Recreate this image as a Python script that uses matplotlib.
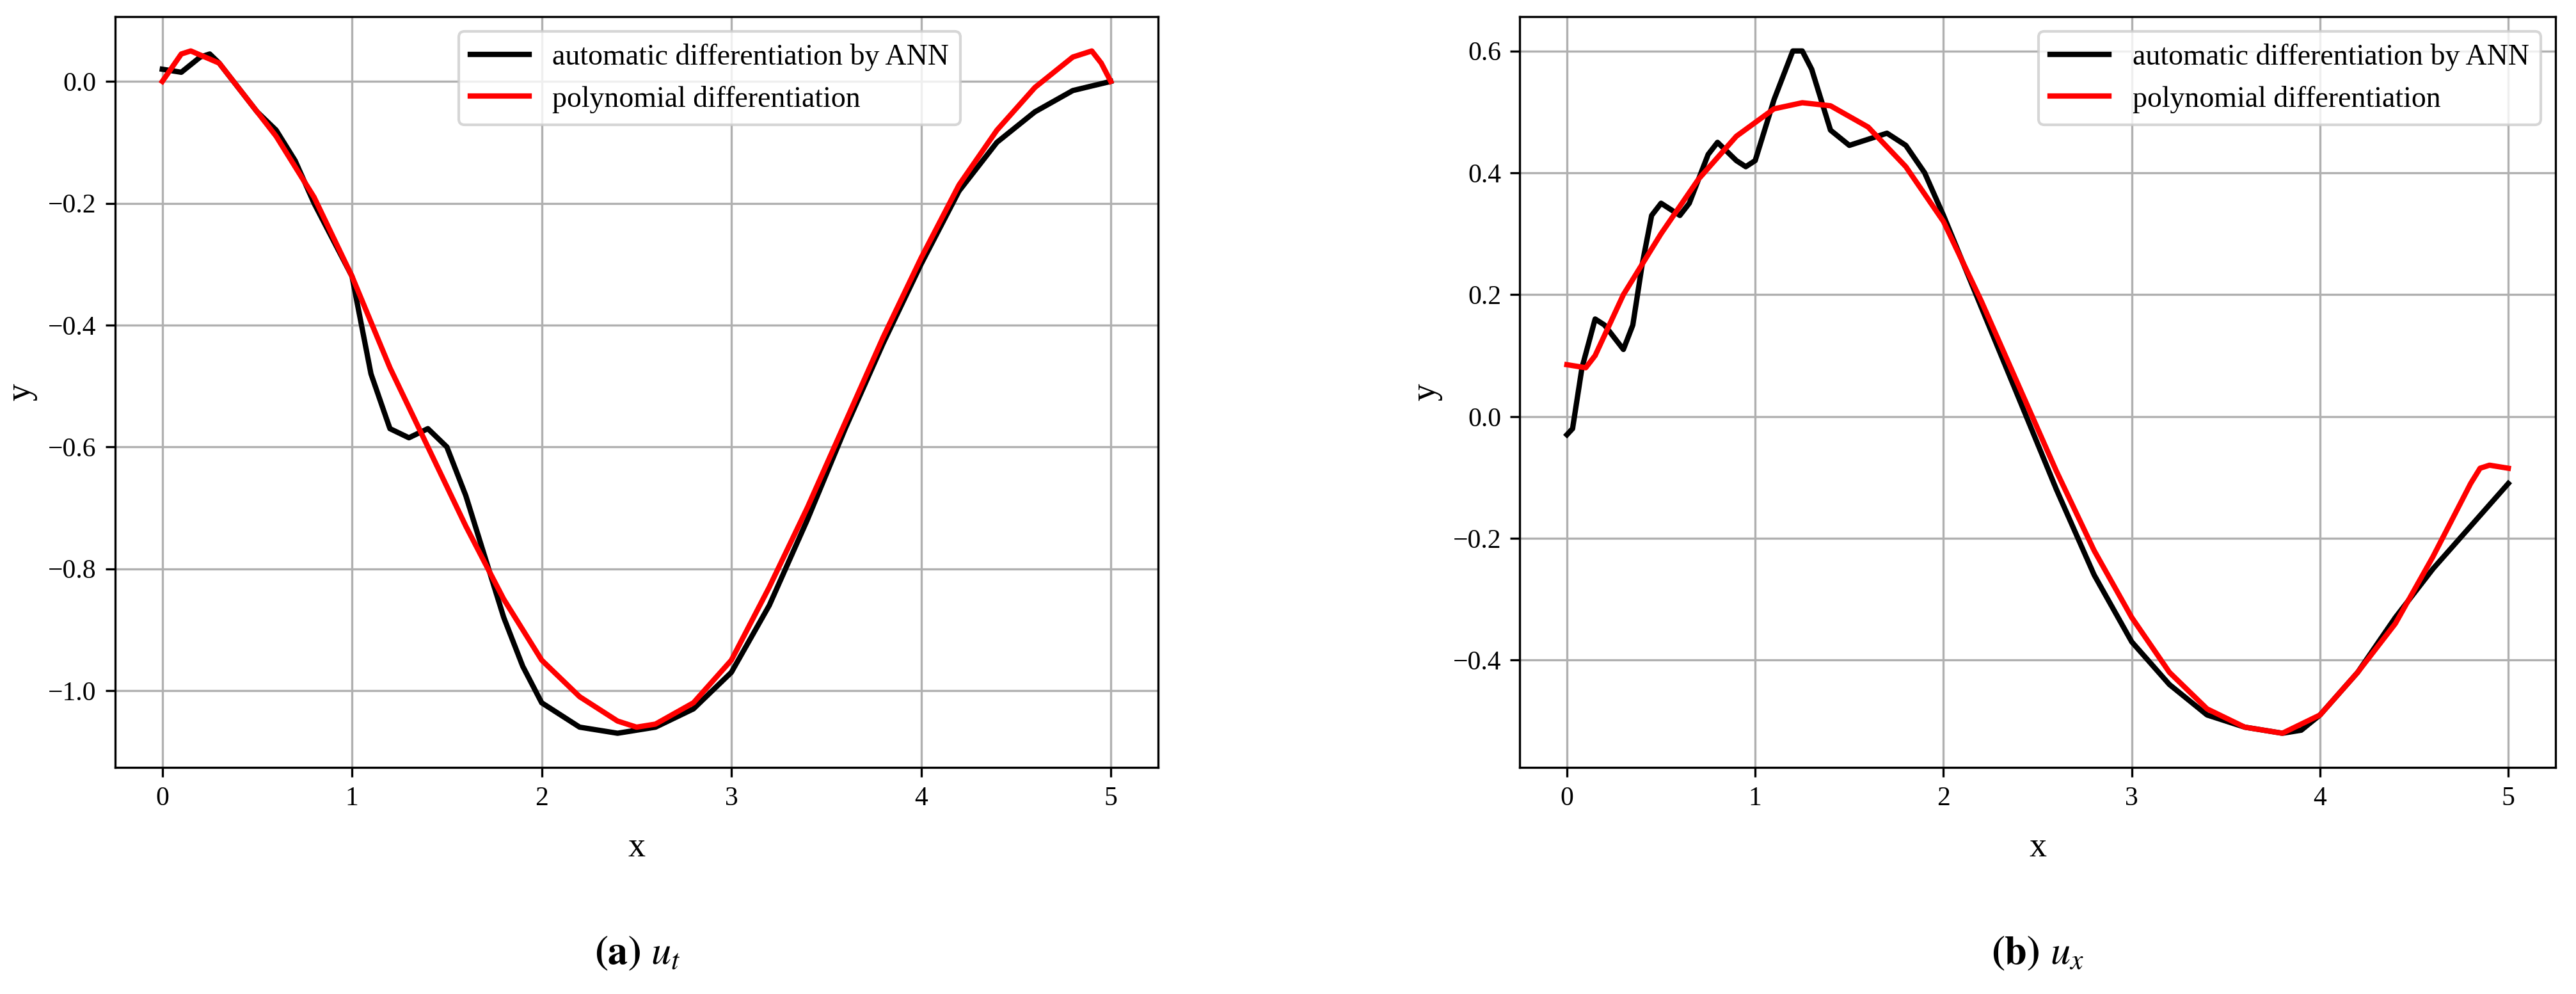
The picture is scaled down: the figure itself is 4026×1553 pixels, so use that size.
import numpy as np
import matplotlib.pyplot as plt

plt.rcParams['font.family'] = 'Liberation Serif'
plt.rcParams['mathtext.fontset'] = 'stix'

# panel (a): u_t
xa_ann = [0, 0.1, 0.2, 0.25, 0.3, 0.4, 0.5, 0.6, 0.7, 0.8, 0.9, 1.0, 1.05, 1.1, 1.2, 1.3, 1.4, 1.5, 1.6, 1.7,
          1.8, 1.9, 2.0, 2.2, 2.4, 2.6, 2.8, 3.0, 3.2, 3.4, 3.6, 3.8, 4.0, 4.2, 4.4, 4.6, 4.8, 5.0]
ya_ann = [0.02, 0.015, 0.04, 0.045, 0.03, -0.01, -0.05, -0.08, -0.13, -0.2, -0.26, -0.32, -0.4, -0.48, -0.57,
          -0.585, -0.57, -0.6, -0.68, -0.78, -0.88, -0.96, -1.02, -1.06, -1.07, -1.06, -1.03, -0.97, -0.86,
          -0.72, -0.57, -0.43, -0.3, -0.18, -0.1, -0.05, -0.015, 0.0]
xa_pol = [0, 0.1, 0.15, 0.3, 0.4, 0.6, 0.8, 1.0, 1.2, 1.4, 1.6, 1.8, 2.0, 2.2, 2.4, 2.5, 2.6, 2.8, 3.0, 3.2,
          3.4, 3.6, 3.8, 4.0, 4.2, 4.4, 4.6, 4.8, 4.9, 4.95, 5.0]
ya_pol = [0.0, 0.045, 0.05, 0.03, -0.01, -0.09, -0.19, -0.32, -0.47, -0.6, -0.73, -0.85, -0.95, -1.01, -1.05,
          -1.06, -1.055, -1.02, -0.95, -0.83, -0.7, -0.56, -0.42, -0.29, -0.17, -0.08, -0.01, 0.04, 0.05, 0.03, 0.0]

# panel (b): u_x
xb_ann = [0, 0.03, 0.08, 0.15, 0.2, 0.3, 0.35, 0.4, 0.45, 0.5, 0.6, 0.65, 0.75, 0.8, 0.9, 0.95, 1.0, 1.1, 1.2,
          1.25, 1.3, 1.4, 1.5, 1.6, 1.7, 1.8, 1.9, 2.0, 2.2, 2.4, 2.6, 2.8, 3.0, 3.2, 3.4, 3.6, 3.8, 3.9, 4.0,
          4.2, 4.4, 4.6, 4.8, 5.0]
yb_ann = [-0.03, -0.02, 0.08, 0.16, 0.15, 0.11, 0.15, 0.25, 0.33, 0.35, 0.33, 0.35, 0.43, 0.45, 0.42, 0.41,
          0.42, 0.52, 0.6, 0.6, 0.57, 0.47, 0.445, 0.455, 0.465, 0.445, 0.4, 0.33, 0.18, 0.03, -0.12, -0.26,
          -0.37, -0.44, -0.49, -0.51, -0.52, -0.515, -0.49, -0.42, -0.33, -0.25, -0.18, -0.11]
xb_pol = [0, 0.1, 0.15, 0.3, 0.5, 0.7, 0.9, 1.1, 1.25, 1.4, 1.6, 1.8, 2.0, 2.2, 2.4, 2.6, 2.8, 3.0, 3.2, 3.4,
          3.6, 3.8, 4.0, 4.2, 4.4, 4.6, 4.7, 4.8, 4.85, 4.9, 5.0]
yb_pol = [0.085, 0.08, 0.1, 0.2, 0.3, 0.39, 0.46, 0.505, 0.515, 0.51, 0.475, 0.41, 0.32, 0.19, 0.05, -0.09,
          -0.22, -0.33, -0.42, -0.48, -0.51, -0.52, -0.49, -0.42, -0.34, -0.23, -0.17, -0.11, -0.085, -0.08, -0.085]

fig = plt.figure(figsize=(13.42, 5.177), dpi=300)
ax1 = fig.add_axes([0.0446, 0.228, 0.405, 0.755])
ax2 = fig.add_axes([0.590, 0.228, 0.402, 0.755])

for ax, xa, ya, xp, yp in [(ax1, xa_ann, ya_ann, xa_pol, ya_pol), (ax2, xb_ann, yb_ann, xb_pol, yb_pol)]:
    ax.plot(xa, ya, color='black', lw=2, label='automatic differentiation by ANN')
    ax.plot(xp, yp, color='red', lw=2, label='polynomial differentiation')
    ax.grid(True, color='#b0b0b0', lw=0.8)
    ax.set_xlabel('x', fontsize=13, labelpad=8)
    ax.set_ylabel('y', fontsize=13)
    ax.set_xticks([0, 1, 2, 3, 4, 5])
    ax.tick_params(labelsize=10)
    ax.legend(loc='upper right', fontsize=11)

ax1.legend(loc='upper center', bbox_to_anchor=(0.57, 1.0), fontsize=11)
ax1.set_yticks([0.0, -0.2, -0.4, -0.6, -0.8, -1.0])
ax2.set_yticks([-0.4, -0.2, 0.0, 0.2, 0.4, 0.6])

fig.text(0.2475, 0.03, r'$\mathbf{(a)}$ $u_t$', ha='center', fontsize=15)
fig.text(0.791, 0.03, r'$\mathbf{(b)}$ $u_x$', ha='center', fontsize=15)

fig.savefig('out.png')
